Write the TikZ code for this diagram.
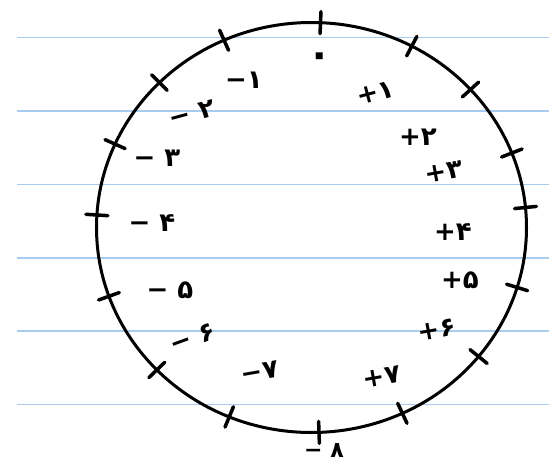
\documentclass[tikz,border=0pt]{standalone}
\usepackage{fontspec}
\newfontfamily\arabicfont[Script=Arabic]{DejaVu Sans}
\newfontfamily\signfont{DejaVu Sans}
\newcommand\sgn[1]{{\signfont #1}}
\begin{document}
\begin{tikzpicture}[x=1pt, y=-1pt,
  rule/.style={draw={rgb,255:red,168;green,204;blue,240}, line width=1.6pt},
  ring/.style={draw=black, line width=3pt},
  notch/.style={draw=black, line width=3.5pt, line cap=round},
  num/.style={font=\arabicfont\bfseries\fontsize{26}{26}\selectfont, inner sep=0pt}
]
\useasboundingbox[fill=white] (0,0) rectangle (549,463);
% notebook lines
\foreach \y in {37.5,110.9,184.3,257.7,331.1,404.5}
  \draw[rule] (17,\y) -- (549,\y);
% the ring and its notches
\draw[ring] (311.5,227.5) ellipse [x radius=215pt, y radius=205pt];
\foreach \a in {87.6,114,135,156,176.5,199.6,224,247.5,272,295,321,343,365.6,381.3,402.3,422.2}
  \draw[notch] ({311.5+204*cos(\a)},{227.5-194*sin(\a)}) -- ({311.5+226*cos(\a)},{227.5-216*sin(\a)});
% labels
\node[num, font=\arabicfont\bfseries\fontsize{40}{40}\selectfont] (zero) at (320,60) {۰};
\node[num] (m1) at (244,80) {\sgn{−}۱};
\node[num, rotate=15] (m2) at (192,113) {\sgn{−} ۲};
\node[num] (m3) at (157,158) {\sgn{−} ۳};
\node[num] (m4) at (152,223) {\sgn{−} ۴};
\node[num] (m5) at (170,290) {\sgn{−} ۵};
\node[num, rotate=20] (m6) at (193,338) {\sgn{−} ۶};
\node[num, rotate=10] (m7) at (260,372) {\sgn{−}۷};
\node[num, font=\arabicfont\bfseries\fontsize{22}{22}\selectfont] (m8) at (324,451) {\sgn{−} ۸};
\node[num, rotate=15] (p1) at (376,93) {\sgn{+}۱};
\node[num] (p2) at (418,137) {\sgn{+}۲};
\node[num, rotate=10] (p3) at (444,172) {\sgn{+}۳};
\node[num] (p4) at (453,232) {\sgn{+}۴};
\node[num] (p5) at (460,280) {\sgn{+}۵};
\node[num, rotate=10] (p6) at (437,330) {\sgn{+}۶};
\node[num, rotate=10] (p7) at (382,377) {\sgn{+}۷};
\end{tikzpicture}
\end{document}
